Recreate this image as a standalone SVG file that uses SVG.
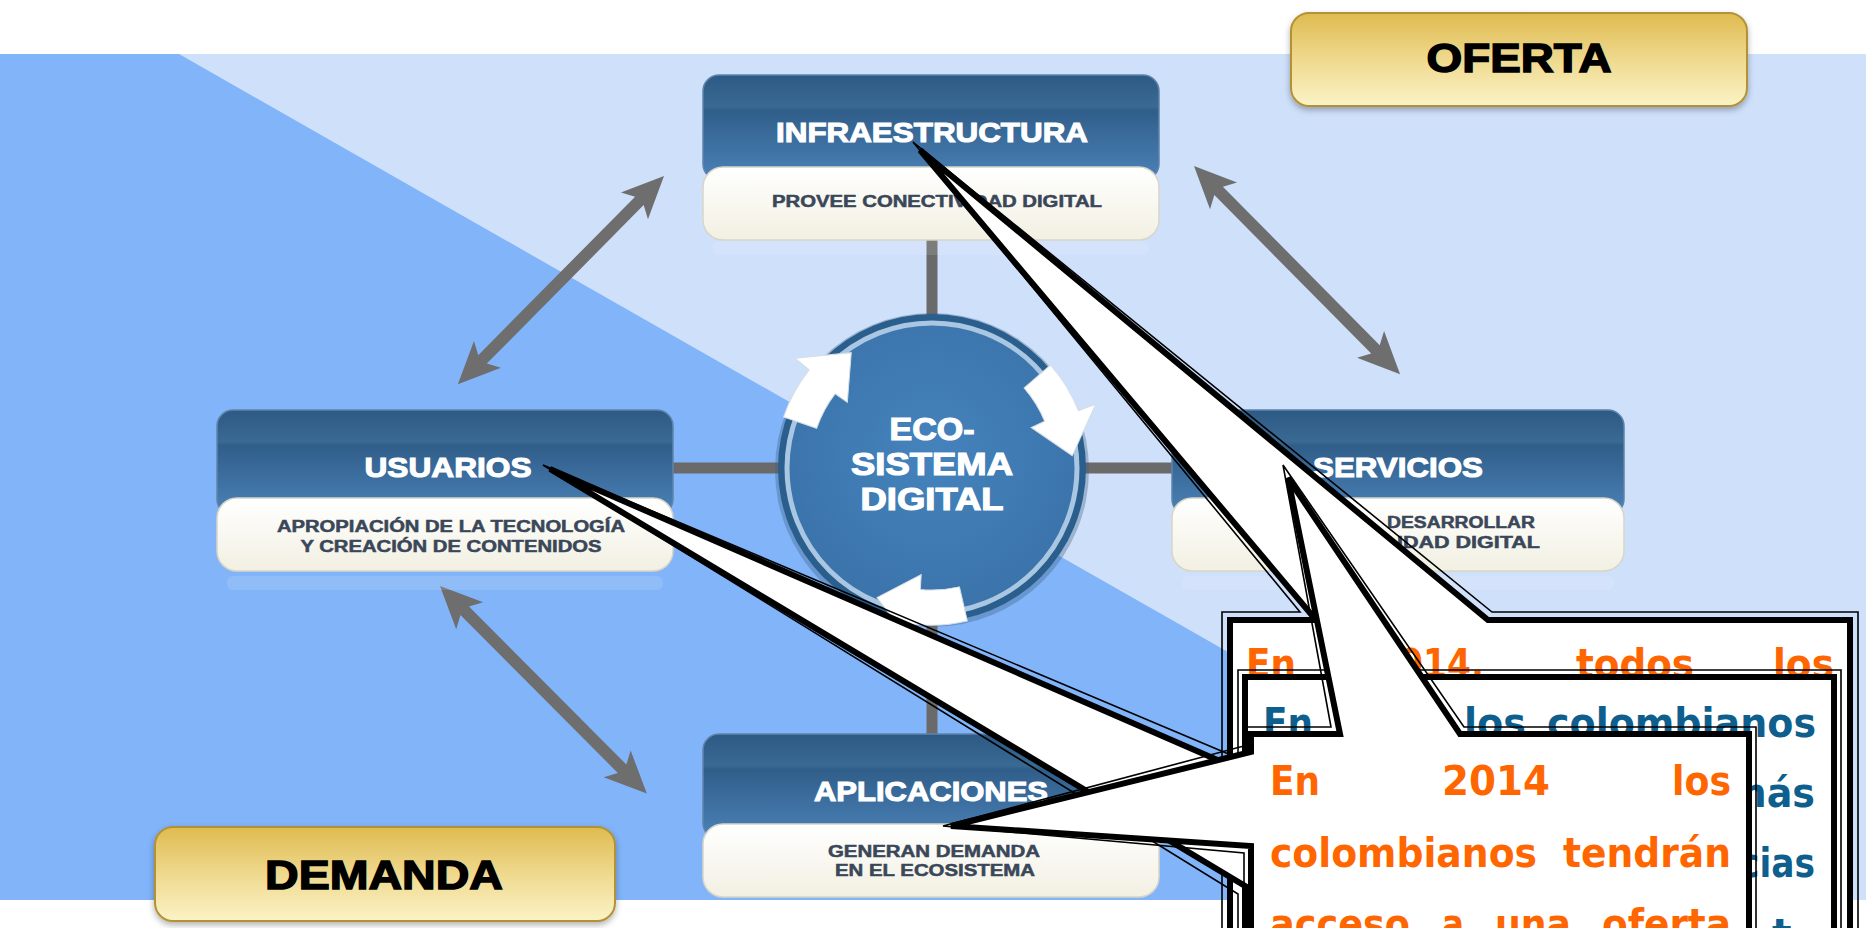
<svg xmlns="http://www.w3.org/2000/svg" xmlns:xlink="http://www.w3.org/1999/xlink" width="1866" height="928" viewBox="0 0 1866 928">
<style>
.hdr{font-family:"Liberation Sans",Arial,sans-serif;font-weight:bold;font-size:28px;fill:#ffffff;stroke:#ffffff;stroke-width:1.1;text-anchor:middle}
.sub{font-family:"Liberation Sans",Arial,sans-serif;font-weight:bold;font-size:16px;fill:#3a4759;stroke:#3a4759;stroke-width:0.5;text-anchor:middle}
.lbl{font-family:"Liberation Sans",Arial,sans-serif;font-weight:bold;font-size:40px;fill:#000;stroke:#000;stroke-width:1.4;text-anchor:middle}
.eco{font-family:"Liberation Sans",Arial,sans-serif;font-weight:bold;font-size:32px;fill:#fff;stroke:#fff;stroke-width:1.2;text-anchor:middle}
.co{font-family:"DejaVu Sans","Liberation Sans",sans-serif;font-weight:bold;font-size:41px}
.or{fill:#ff6600}
.bl{fill:#0f5f8e}
.thin{fill:none;stroke:#000;stroke-width:1.6}
.thick{fill:#fff;stroke:#000;stroke-width:6}
.conn{stroke:#6a6a6a;stroke-width:11;fill:none}
.hbox{fill:url(#hdrG);stroke:#5f84aa;stroke-width:1.5}
.sbox{fill:url(#subG);stroke:#d8d5c8;stroke-width:1.5}
.refl{fill:#ffffff;opacity:0.12}
.gold{fill:url(#goldG);stroke:#b39236;stroke-width:2}
</style>
<defs>
<linearGradient id="hdrG" x1="0" y1="0" x2="0" y2="1">
<stop offset="0" stop-color="#2c5a85"/>
<stop offset="0.3" stop-color="#3a6993"/>
<stop offset="0.34" stop-color="#305e8a"/>
<stop offset="1" stop-color="#4b82b8"/>
</linearGradient>
<linearGradient id="subG" x1="0" y1="0" x2="0" y2="1">
<stop offset="0" stop-color="#ffffff"/>
<stop offset="1" stop-color="#f2f0e2"/>
</linearGradient>
<linearGradient id="goldG" x1="0" y1="0" x2="0" y2="1">
<stop offset="0" stop-color="#dfbb50"/>
<stop offset="0.5" stop-color="#efd98e"/>
<stop offset="1" stop-color="#fbf3c6"/>
</linearGradient>
<radialGradient id="circG" cx="0.5" cy="0.45" r="0.6">
<stop offset="0" stop-color="#4583bc"/>
<stop offset="1" stop-color="#3a72a9"/>
</radialGradient>
<path id="dbl" d="M0,0 L42,-19 L35,-6 L258,-6 L251,-19 L293,0 L251,19 L258,6 L35,6 L42,19 Z" fill="#6e6e6e"/>
<path id="cyc" d="M122,0 A122,122 0 0 1 115.7,38.7 L101.4,34.5 L113.9,82.8 L165.4,59.2 L148.1,52.8 A157,157 0 0 0 157,0 Z" fill="#ffffff" stroke="#d5dde6" stroke-width="1"/>
<filter id="sh" x="-10%" y="-10%" width="120%" height="130%">
<feDropShadow dx="0" dy="3" stdDeviation="3" flood-color="#000" flood-opacity="0.3"/>
</filter>
</defs>

<g id="background">
<rect x="0" y="0" width="1866" height="928" fill="#ffffff"/>
<rect x="0" y="54" width="1866" height="846" fill="#cfe0fb"/>
<polygon points="0,54 179,54 1663,900 0,900" fill="#81b4f8"/>
</g>

<g id="connectors">
<line class="conn" x1="932" y1="238" x2="932" y2="320"/>
<line class="conn" x1="672" y1="468" x2="782" y2="468"/>
<line class="conn" x1="1082" y1="468" x2="1172" y2="468"/>
<line class="conn" x1="932" y1="616" x2="932" y2="736"/>
<use xlink:href="#dbl" transform="translate(664,176) rotate(134.7)"/>
<use xlink:href="#dbl" transform="translate(1194,166) rotate(45.3)"/>
<use xlink:href="#dbl" transform="translate(440,586) rotate(45.1)"/>
</g>

<g id="ecosistema">
<circle cx="932" cy="470" r="157" fill="#3d5f80" opacity="0.35"/>
<circle cx="932" cy="468" r="154" fill="#2a5e8c"/>
<circle cx="932" cy="468" r="145" fill="url(#circG)" stroke="#a9c7e2" stroke-width="5"/>
<g transform="translate(932,468)">
<use xlink:href="#cyc" transform="rotate(199)"/>
<use xlink:href="#cyc" transform="rotate(319)"/>
<use xlink:href="#cyc" transform="rotate(77)"/>
</g>
<text class="eco" x="932" y="440" textLength="85" lengthAdjust="spacingAndGlyphs">ECO-</text>
<text class="eco" x="932" y="475" textLength="162" lengthAdjust="spacingAndGlyphs">SISTEMA</text>
<text class="eco" x="932" y="510" textLength="143" lengthAdjust="spacingAndGlyphs">DIGITAL</text>
</g>

<g id="node-infraestructura" transform="translate(703,75)">
<rect class="refl" x="10" y="166" width="436" height="14" rx="6"/>
<rect class="hbox" x="0" y="0" width="456" height="105" rx="16"/>
<rect class="sbox" x="0" y="92" width="456" height="73" rx="20"/>
<text class="hdr" x="229" y="67" textLength="312" lengthAdjust="spacingAndGlyphs">INFRAESTRUCTURA</text>
<text class="sub" x="234" y="132" textLength="330" lengthAdjust="spacingAndGlyphs">PROVEE CONECTIVIDAD DIGITAL</text>
</g>

<g id="node-usuarios" transform="translate(217,410)">
<rect class="refl" x="10" y="166" width="436" height="14" rx="6"/>
<rect class="hbox" x="0" y="0" width="456" height="105" rx="16"/>
<rect class="sbox" x="0" y="88" width="456" height="73" rx="20"/>
<text class="hdr" x="231" y="67" textLength="167" lengthAdjust="spacingAndGlyphs">USUARIOS</text>
<text class="sub" x="234" y="122" textLength="348" lengthAdjust="spacingAndGlyphs">APROPIACIÓN DE LA TECNOLOGÍA</text>
<text class="sub" x="234" y="142" textLength="301" lengthAdjust="spacingAndGlyphs">Y CREACIÓN DE CONTENIDOS</text>
</g>

<g id="node-servicios" transform="translate(1172,410)">
<rect class="refl" x="10" y="166" width="432" height="14" rx="6"/>
<rect class="hbox" x="0" y="0" width="452" height="105" rx="16"/>
<rect class="sbox" x="0" y="88" width="452" height="73" rx="20"/>
<text class="hdr" x="226" y="67" textLength="170" lengthAdjust="spacingAndGlyphs">SERVICIOS</text>
<text class="sub" x="215" y="118" textLength="148" lengthAdjust="spacingAndGlyphs" style="text-anchor:start">DESARROLLAR</text>
<text class="sub" x="368" y="138" textLength="143" lengthAdjust="spacingAndGlyphs" style="text-anchor:end">IDAD DIGITAL</text>
</g>

<g id="node-aplicaciones" transform="translate(703,734)">
<rect class="refl" x="10" y="166" width="436" height="14" rx="6"/>
<rect class="hbox" x="0" y="0" width="456" height="105" rx="16"/>
<rect class="sbox" x="0" y="90" width="456" height="73" rx="20"/>
<text class="hdr" x="228" y="67" textLength="234" lengthAdjust="spacingAndGlyphs">APLICACIONES</text>
<text class="sub" x="231" y="123" textLength="212" lengthAdjust="spacingAndGlyphs">GENERAN DEMANDA</text>
<text class="sub" x="232" y="142" textLength="200" lengthAdjust="spacingAndGlyphs">EN EL ECOSISTEMA</text>
</g>

<g id="oferta">
<rect class="gold" x="1291" y="13" width="456" height="93" rx="18" filter="url(#sh)"/>
<text class="lbl" x="1519" y="72" textLength="185" lengthAdjust="spacingAndGlyphs">OFERTA</text>
</g>

<g id="demanda">
<rect class="gold" x="155" y="827" width="460" height="94" rx="18" filter="url(#sh)"/>
<text class="lbl" x="384" y="889" textLength="238" lengthAdjust="spacingAndGlyphs">DEMANDA</text>
</g>

<g id="callout-a">
<path class="thick" d="M1230,1000 L1230,620 L1316,620 L920,150 L1488,620 L1850,620 L1850,1000 Z"/>
<path class="thin" d="M1222,1000 L1222,612 L1300,612 L913,142 L1492,612 L1858,612 L1858,1000"/>
<text class="co or" y="678"><tspan x="1246" textLength="50" lengthAdjust="spacingAndGlyphs">En</tspan><tspan x="1375" textLength="109" lengthAdjust="spacingAndGlyphs">2014,</tspan><tspan x="1576" textLength="118" lengthAdjust="spacingAndGlyphs">todos</tspan><tspan x="1773" textLength="61" lengthAdjust="spacingAndGlyphs">los</tspan></text>
</g>

<g id="callout-b">
<path class="thick" d="M1245,1000 L1245,886 L550,469 L1245,772 L1245,677 L1834,677 L1834,1000 Z"/>
<path class="thin" d="M1238,1000 L1238,894 L543,465 L1238,758 L1238,670 L1841,670 L1841,1000"/>
<text class="co bl" y="737"><tspan x="1263" textLength="50" lengthAdjust="spacingAndGlyphs">En</tspan><tspan x="1464" textLength="62" lengthAdjust="spacingAndGlyphs">los</tspan><tspan x="1547" textLength="269" lengthAdjust="spacingAndGlyphs">colombianos</tspan></text>
<text class="co bl" x="1815" y="807" style="text-anchor:end" textLength="88" lengthAdjust="spacingAndGlyphs">más</text>
<text class="co bl" x="1815" y="877" style="text-anchor:end" textLength="76" lengthAdjust="spacingAndGlyphs">cias</text>
<text class="co bl" x="1772" y="948">t</text>
</g>

<g id="callout-c">
<path class="thick" d="M1251,1000 L1251,846 L951,826 L1251,752 L1251,734 L1340,734 L1288,478 L1460,734 L1749,734 L1749,1000 Z"/>
<path class="thin" d="M1244,1000 L1244,853 L943,826 L1244,746 L1244,727 L1331,727 L1283,465 L1464,727 L1756,727 L1756,1000"/>
<text class="co or" y="795"><tspan x="1270" textLength="50" lengthAdjust="spacingAndGlyphs">En</tspan><tspan x="1442" textLength="108" lengthAdjust="spacingAndGlyphs">2014</tspan><tspan x="1672" textLength="59" lengthAdjust="spacingAndGlyphs">los</tspan></text>
<text class="co or" y="867"><tspan x="1270" textLength="267" lengthAdjust="spacingAndGlyphs">colombianos</tspan><tspan x="1563" textLength="168" lengthAdjust="spacingAndGlyphs">tendrán</tspan></text>
<text class="co or" y="938"><tspan x="1270" textLength="140" lengthAdjust="spacingAndGlyphs">acceso</tspan><tspan x="1442" textLength="22" lengthAdjust="spacingAndGlyphs">a</tspan><tspan x="1495" textLength="76" lengthAdjust="spacingAndGlyphs">una</tspan><tspan x="1602" textLength="129" lengthAdjust="spacingAndGlyphs">oferta</tspan></text>
</g>
</svg>
